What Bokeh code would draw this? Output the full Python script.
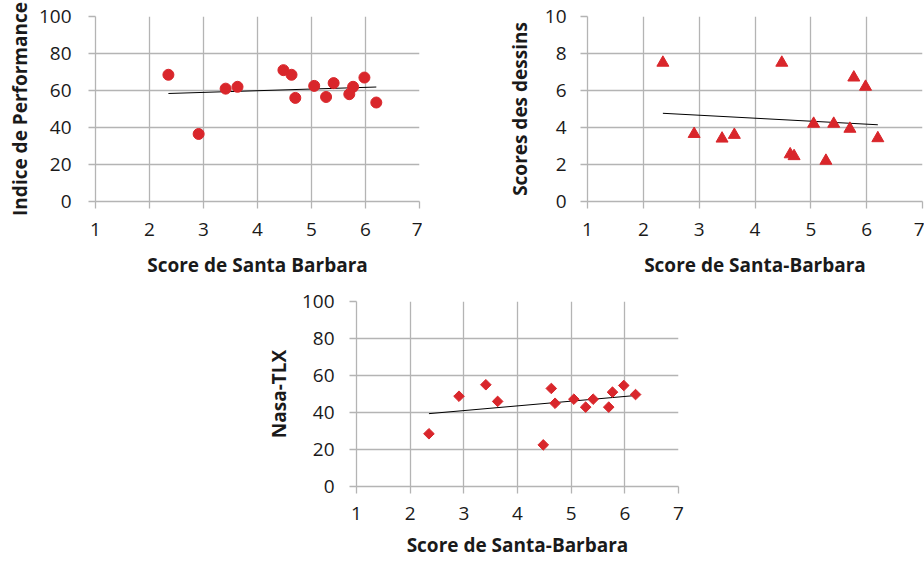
import numpy as np
from bokeh.plotting import figure
from bokeh.layouts import column, row
from bokeh.models import Spacer, Range1d, FixedTicker
from bokeh.embed import file_html
from bokeh.resources import INLINE

# ---- data ----
santa_barbara = [2.35, 2.91, 3.41, 3.63, 4.48, 4.63, 4.70, 5.05, 5.27, 5.41, 5.70, 5.77, 5.98, 6.20]
performance = [68.5, 36.5, 61.0, 62.0, 71.0, 68.5, 56.0, 62.5, 56.5, 64.0, 58.0, 62.0, 67.0, 53.5]
dessins = [7.5, 3.65, 3.4, 3.6, 7.5, 2.55, 2.45, 4.2, 2.2, 4.2, 3.93, 6.7, 6.2, 3.42]
nasa_tlx = [28.5, 48.8, 55.0, 46.0, 22.5, 53.0, 45.0, 47.2, 42.9, 47.2, 42.9, 51.0, 54.6, 49.7]

x_ticks = [1, 2, 3, 4, 5, 6, 7]
perf_ticks = [0, 20, 40, 60, 80, 100]
dessin_ticks = [0, 2, 4, 6, 8, 10]
tlx_ticks = [0, 20, 40, 60, 80, 100]

FONT = "Open Sans"
GRID = "#b4b4b4"
RED = "#d9262b"
TEXT = "#1a1a1a"


def make_panel(x, y, marker, msize, angle, yticks, ytitle, xtitle, width, height,
               bl, br, bt, bb, ylab_standoff, ytitle_standoff, xlab_standoff,
               xtitle_standoff):
    p = figure(width=width, height=height, output_backend="svg", toolbar_location=None,
               x_range=Range1d(1, 7), y_range=Range1d(yticks[0], yticks[-1]),
               min_border_left=bl, min_border_right=br, min_border_top=bt,
               min_border_bottom=bb)
    p.outline_line_color = None
    p.background_fill_color = "white"
    p.xaxis.ticker = FixedTicker(ticks=x_ticks)
    p.yaxis.ticker = FixedTicker(ticks=yticks)
    for ax in (p.xaxis, p.yaxis):
        ax.axis_line_color = GRID
        ax.axis_line_width = 1.3
        ax.major_tick_line_color = GRID
        ax.major_tick_line_width = 1.3
        ax.major_tick_out = 7
        ax.major_tick_in = 0
        ax.minor_tick_line_color = None
        ax.major_label_text_font = FONT
        ax.major_label_text_font_size = "19px"
        ax.major_label_text_color = TEXT
        ax.axis_label_text_font = FONT
        ax.axis_label_text_font_size = "19px"
        ax.axis_label_text_font_style = "bold"
        ax.axis_label_text_color = TEXT
    p.xaxis.major_label_standoff = xlab_standoff
    p.yaxis.major_label_standoff = ylab_standoff
    p.xaxis.axis_label = xtitle
    p.yaxis.axis_label = ytitle
    p.xaxis.axis_label_standoff = xtitle_standoff
    p.yaxis.axis_label_standoff = ytitle_standoff
    p.grid.grid_line_color = GRID
    p.grid.grid_line_width = 1.3
    p.xgrid.ticker = FixedTicker(ticks=x_ticks)
    p.ygrid.ticker = FixedTicker(ticks=yticks)

    # linear trend line through the data
    a, b = np.polyfit(x, y, 1)
    xs = [min(x), max(x)]
    p.line(xs, [a * v + b for v in xs], line_color="black", line_width=1)
    p.scatter(x, y, marker=marker, size=msize, angle=angle,
              fill_color=RED, line_color=RED)
    return p


p1 = make_panel(santa_barbara, performance, "circle", 11, 0, perf_ticks,
                "Indice de Performance", "Score de Santa Barbara",
                422, 285, 95, 3, 16, 84, 17, 3, 14, 13)
p2 = make_panel(santa_barbara, dessins, "triangle", 12, 0, dessin_ticks,
                "Scores des dessins", "Score de Santa-Barbara",
                502, 285, 165, 2, 16, 83, 14, 9, 14, 13)
p3 = make_panel(santa_barbara, nasa_tlx, "square", 7.5, np.pi / 4, tlx_ticks,
                "Nasa-TLX", "Score de Santa-Barbara",
                428, 276, 93, 12, 16, 75, 15, 7, 13, 9)

layout = column(row(p1, p2, spacing=0),
                row(Spacer(width=262, height=276), p3, spacing=0),
                spacing=0)

open("out.html", "w").write(file_html(layout, INLINE))
